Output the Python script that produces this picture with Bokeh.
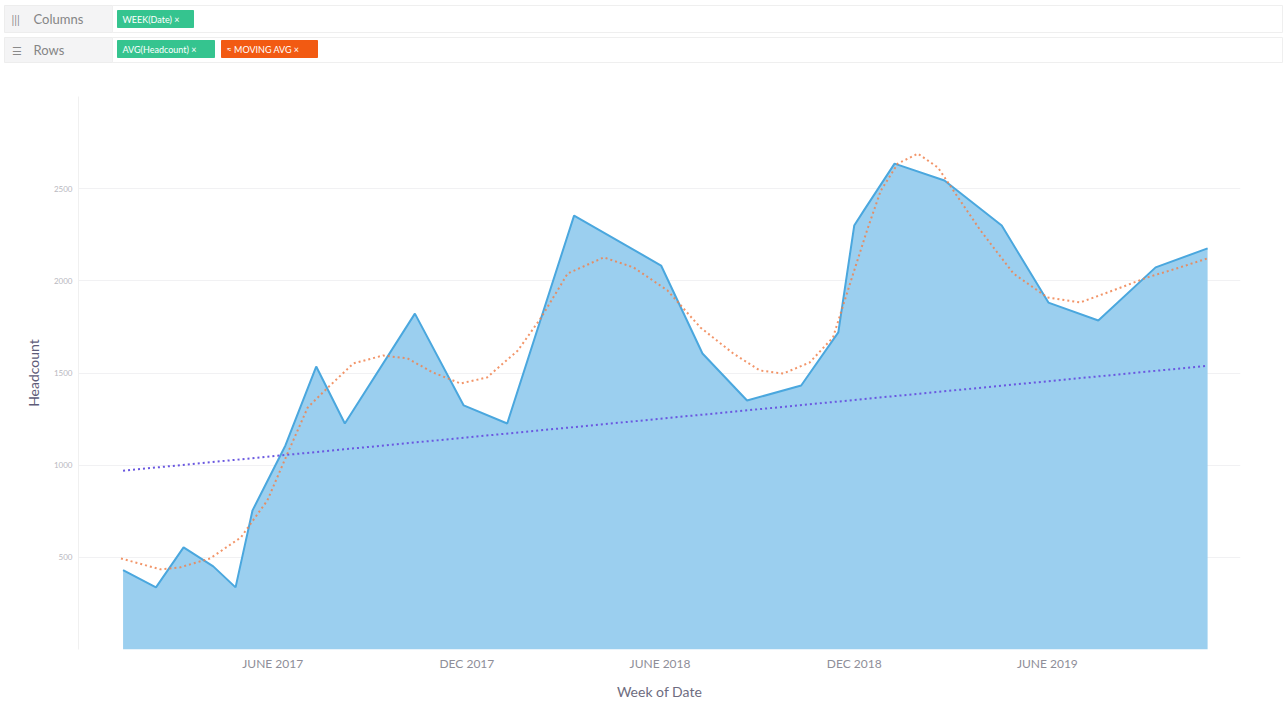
import pandas as pd
from bokeh.plotting import figure
from bokeh.models import Range1d, FixedTicker, ColumnDataSource
from bokeh.core.properties import value
from bokeh.embed import file_html
from bokeh.resources import INLINE

# ---------------- data ----------------
week_dates = ["2017-01-11", "2017-02-11", "2017-03-09", "2017-04-06", "2017-04-27",
              "2017-05-13", "2017-06-13", "2017-07-12", "2017-08-08", "2017-10-13",
              "2017-11-28", "2018-01-08", "2018-03-12", "2018-06-02", "2018-07-11",
              "2018-08-22", "2018-10-12", "2018-11-16", "2018-12-01", "2018-12-10",
              "2019-01-08", "2019-02-24", "2019-04-19", "2019-06-02", "2019-07-19",
              "2019-09-11", "2019-10-30"]
headcount = [430, 337, 554, 451, 337,
             755, 1107, 1535, 1226, 1822,
             1324, 1226, 2354, 2083, 1606,
             1351, 1432, 1720, 2300, 2381,
             2636, 2544, 2300, 1882, 1785,
             2073, 2176]

ma_dates = ["2017-01-09", "2017-02-15", "2017-03-06", "2017-04-03", "2017-05-02",
            "2017-05-27", "2017-06-15", "2017-07-04", "2017-07-23", "2017-08-16",
            "2017-09-13", "2017-10-06", "2017-10-30", "2017-11-25", "2017-12-20",
            "2018-01-18", "2018-02-09", "2018-03-06", "2018-04-09", "2018-05-07",
            "2018-06-08", "2018-07-09", "2018-08-09", "2018-09-03", "2018-09-25",
            "2018-10-20", "2018-11-11", "2018-11-28", "2018-12-13", "2018-12-26",
            "2019-01-11", "2019-01-30", "2019-02-18", "2019-03-09", "2019-03-30",
            "2019-04-30", "2019-06-01", "2019-07-02", "2019-08-02", "2019-09-03",
            "2019-10-04", "2019-10-30"]
moving_avg = [494, 435, 446, 494, 608,
              809, 1064, 1313, 1421, 1552,
              1595, 1579, 1503, 1443, 1476,
              1622, 1801, 2040, 2127, 2073,
              1948, 1747, 1606, 1514, 1497,
              1557, 1693, 2002, 2273, 2489,
              2636, 2690, 2614, 2451, 2273,
              2040, 1910, 1883, 1948, 2018,
              2073, 2122]

trend_dates = ["2017-01-11", "2019-10-30"]
trend_values = [970, 1539]

x_tick_dates = ["2017-06-01", "2017-12-01", "2018-06-01", "2018-12-01", "2019-06-01"]
x_tick_labels = ["JUNE 2017", "DEC 2017", "JUNE 2018", "DEC 2018", "JUNE 2019"]
y_ticks = [500, 1000, 1500, 2000, 2500]

shelf_rows = ["Columns", "Rows"]
shelf_icons = ["|||", "\u2630"]
column_chips = ["WEEK(Date)"]
row_chips = ["AVG(Headcount)", "\u2248 MOVING AVG"]

FONT = "Lato"
W = 1288
SHELF_H = 66
CHART_H = 724 - SHELF_H

# ---------------- shelf header (its own root, drawn in page pixels) ----------------
shelf = figure(width=W, height=SHELF_H, x_range=Range1d(0, W), y_range=Range1d(SHELF_H, 0),
               toolbar_location=None, output_backend="svg",
               min_border_left=0, min_border_right=0, min_border_top=0, min_border_bottom=0)
shelf.axis.visible = False
shelf.grid.visible = False
shelf.outline_line_color = None
shelf.background_fill_color = "white"
shelf.border_fill_color = "white"

shelf.quad(left=[4, 4], right=[112, 112], top=[5, 37], bottom=[32, 62],
           fill_color="#F4F4F5", line_color="#EDEDED")
shelf.quad(left=[112, 112], right=[1282, 1282], top=[5, 37], bottom=[32, 62],
           fill_color="white", line_color="#EFEFEF")
shelf.text(x=[11, 11], y=[18.5, 49.5], text=shelf_icons, text_font=value(FONT),
           text_font_size="11px", text_color="#8A8A8A", text_baseline="middle")
shelf.text(x=[33, 33], y=[18.5, 49.5], text=shelf_rows, text_font=value(FONT),
           text_font_size="13px", text_color="#858585", text_baseline="middle")

chip_src = ColumnDataSource(dict(
    left=[117, 117, 221], right=[193, 214, 317], top=[10, 40, 40], bottom=[27, 57, 57],
    color=["#35C48F", "#35C48F", "#F25A12"],
    label=[column_chips[0] + "  \u00d7", row_chips[0] + "  \u00d7", row_chips[1] + "  \u00d7"],
    lx=[122, 122, 226], ly=[18.5, 48.5, 48.5]))
shelf.quad(left="left", right="right", top="top", bottom="bottom", source=chip_src,
           fill_color="color", line_color="color")
shelf.text(x="lx", y="ly", text="label", source=chip_src, text_font=value(FONT),
           text_font_size="9px", text_color="white", text_baseline="middle")

# ---------------- chart ----------------
FL, FR, FT, FB = 78, 1240, 96, 649   # frame edges on the page

x = pd.to_datetime(week_dates)
xm = pd.to_datetime(ma_dates)
xt = pd.to_datetime(trend_dates)

p = figure(width=W, height=CHART_H, x_axis_type="datetime",
           x_range=Range1d(pd.Timestamp("2016-11-30"), pd.Timestamp("2019-11-30")),
           y_range=Range1d(0, 3000),
           toolbar_location=None, output_backend="svg",
           min_border_left=FL, min_border_right=W - FR,
           min_border_top=FT - SHELF_H, min_border_bottom=724 - FB)
p.outline_line_color = None
p.background_fill_color = "white"
p.border_fill_color = "white"

p.varea(x=x, y1=0, y2=headcount, fill_color="#9BCFEF", fill_alpha=1.0)
p.line(x=x, y=headcount, line_color="#4AA7DE", line_width=2)
p.line(x=xm, y=moving_avg, line_color="#F0824F", line_width=2, line_dash="2 3", line_alpha=0.85)
p.line(x=xt, y=trend_values, line_color="#6A58E0", line_width=2, line_dash="2 3")

# x axis
tick_ms = [int(pd.Timestamp(d).value // 10**6) for d in x_tick_dates]
p.xaxis.ticker = FixedTicker(ticks=tick_ms)
p.xaxis.major_label_overrides = {ms: lab for ms, lab in zip(tick_ms, x_tick_labels)}
p.xaxis.axis_label = "Week of Date"
p.xaxis.axis_line_color = None
p.xaxis.major_tick_line_color = None
p.xaxis.minor_tick_line_color = None
p.xaxis.major_label_standoff = 0
p.xaxis.major_label_text_font = FONT
p.xaxis.major_label_text_font_size = "12px"
p.xaxis.major_label_text_color = "#8E8E98"
p.xaxis.axis_label_text_font = FONT
p.xaxis.axis_label_text_font_size = "14px"
p.xaxis.axis_label_text_font_style = "normal"
p.xaxis.axis_label_text_color = "#6E6C80"
p.xaxis.axis_label_standoff = 9

# y axis
p.yaxis.ticker = FixedTicker(ticks=y_ticks)
p.yaxis.axis_label = "Headcount"
p.yaxis.axis_line_color = "#F0F0F0"
p.yaxis.major_tick_line_color = None
p.yaxis.minor_tick_line_color = None
p.yaxis.major_tick_out = 0
p.yaxis.major_tick_in = 0
p.yaxis.major_label_standoff = 6
p.yaxis.major_label_text_font = FONT
p.yaxis.major_label_text_font_size = "8px"
p.yaxis.major_label_text_color = "#B8B8C0"
p.yaxis.axis_label_text_font = FONT
p.yaxis.axis_label_text_font_size = "14px"
p.yaxis.axis_label_text_font_style = "normal"
p.yaxis.axis_label_text_color = "#5E5C78"
p.yaxis.axis_label_standoff = 9

p.xgrid.grid_line_color = None
p.ygrid.grid_line_color = "#F1F1F3"
p.ygrid.ticker = FixedTicker(ticks=y_ticks)

open("out.html", "w").write(file_html([shelf, p], INLINE))
